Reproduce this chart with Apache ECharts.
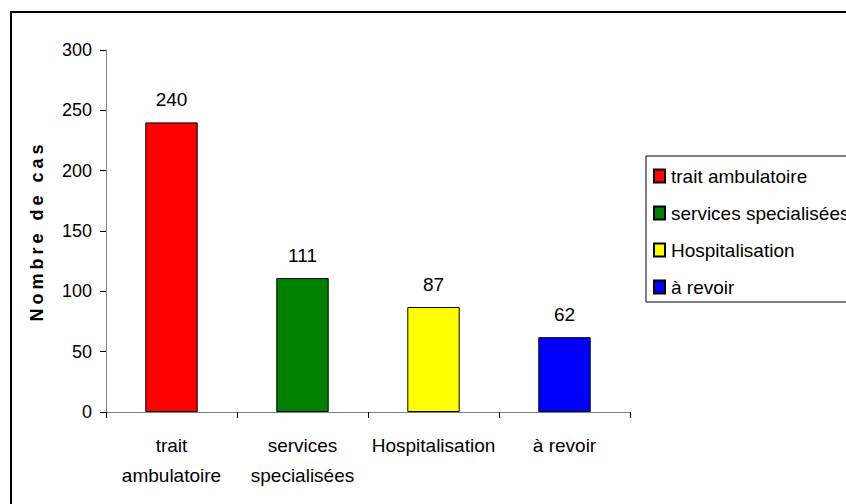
<!DOCTYPE html>
<html>
<head>
<meta charset="utf-8">
<script src="https://cdn.jsdelivr.net/npm/echarts@6/dist/echarts.min.js"></script>
<style>
  html, body { margin: 0; padding: 0; background: #fff; }
  #chart { width: 846px; height: 504px; }
</style>
</head>
<body>
<div id="chart"></div>
<script>
// valeurs
const categories = ['trait ambulatoire', 'services specialisées', 'Hospitalisation', 'à revoir'];
const axisLabels = ['trait\nambulatoire', 'services\nspecialisées', 'Hospitalisation', 'à revoir'];
const values = [240, 111, 87, 62];
const colors = ['#ff0000', '#008000', '#ffff00', '#0000ff'];
const yTicks = [0, 50, 100, 150, 200, 250, 300];

const font = '"Liberation Sans", Arial, sans-serif';

let chart = echarts.init(document.getElementById('chart'), null, { renderer: 'svg' });

// une serie par categorie pour avoir la legende
let series = categories.map(function (name, i) {
  return {
    name: name,
    type: 'bar',
    barWidth: '40%',
    barGap: '-100%',
    data: values.map(function (v, j) { return j === i ? v : '-'; }),
    itemStyle: { color: colors[i], borderColor: '#000', borderWidth: 1 },
    label: {
      show: true,
      position: 'top',
      distance: 13,
      color: '#000',
      fontFamily: font,
      fontSize: 19
    }
  };
});

let option = {
  animation: false,
  backgroundColor: '#fff',
  textStyle: { fontFamily: font },
  graphic: [{
    type: 'rect',
    shape: { x: 11, y: 12, width: 900, height: 600 },
    style: { fill: 'none', stroke: '#000', lineWidth: 2 },
    silent: true
  }],
  grid: { left: 106, right: 216, top: 50, bottom: 92 },
  legend: {
    orient: 'vertical',
    left: 646,
    top: 156,
    padding: [8, 10, 3, 7],
    icon: 'rect',
    itemWidth: 11,
    itemHeight: 13,
    itemGap: 13,
    borderColor: '#000',
    borderWidth: 1,
    data: categories,
    textStyle: { fontFamily: font, fontSize: 19, color: '#000', lineHeight: 24, padding: [0, 0, 0, 1] }
  },
  xAxis: {
    type: 'category',
    data: axisLabels,
    axisLine: { lineStyle: { color: '#808080', width: 1 } },
    axisTick: { show: true, length: 6, lineStyle: { color: '#000' } },
    axisLabel: {
      color: '#000',
      fontFamily: font,
      fontSize: 19,
      lineHeight: 30,
      margin: 18,
      interval: 0
    }
  },
  yAxis: {
    type: 'value',
    min: yTicks[0],
    max: yTicks[yTicks.length - 1],
    interval: 50,
    name: 'Nombre de cas',
    nameLocation: 'middle',
    nameGap: 60,
    nameRotate: 90,
    nameTextStyle: { fontFamily: font, fontSize: 18, fontWeight: 'bold', color: '#000' },
    axisLine: { show: true, lineStyle: { color: '#808080', width: 1 } },
    axisTick: { show: true, length: 6, lineStyle: { color: '#000' } },
    splitLine: { show: false },
    axisLabel: { color: '#000', fontFamily: font, fontSize: 18, margin: 14 }
  },
  series: series
};

chart.setOption(option);

// espacement des lettres du titre de l'axe
document.querySelectorAll('#chart text').forEach(function (t) {
  if (t.textContent === 'Nombre de cas') {
    t.style.letterSpacing = '4px';
  }
});
</script>
</body>
</html>
